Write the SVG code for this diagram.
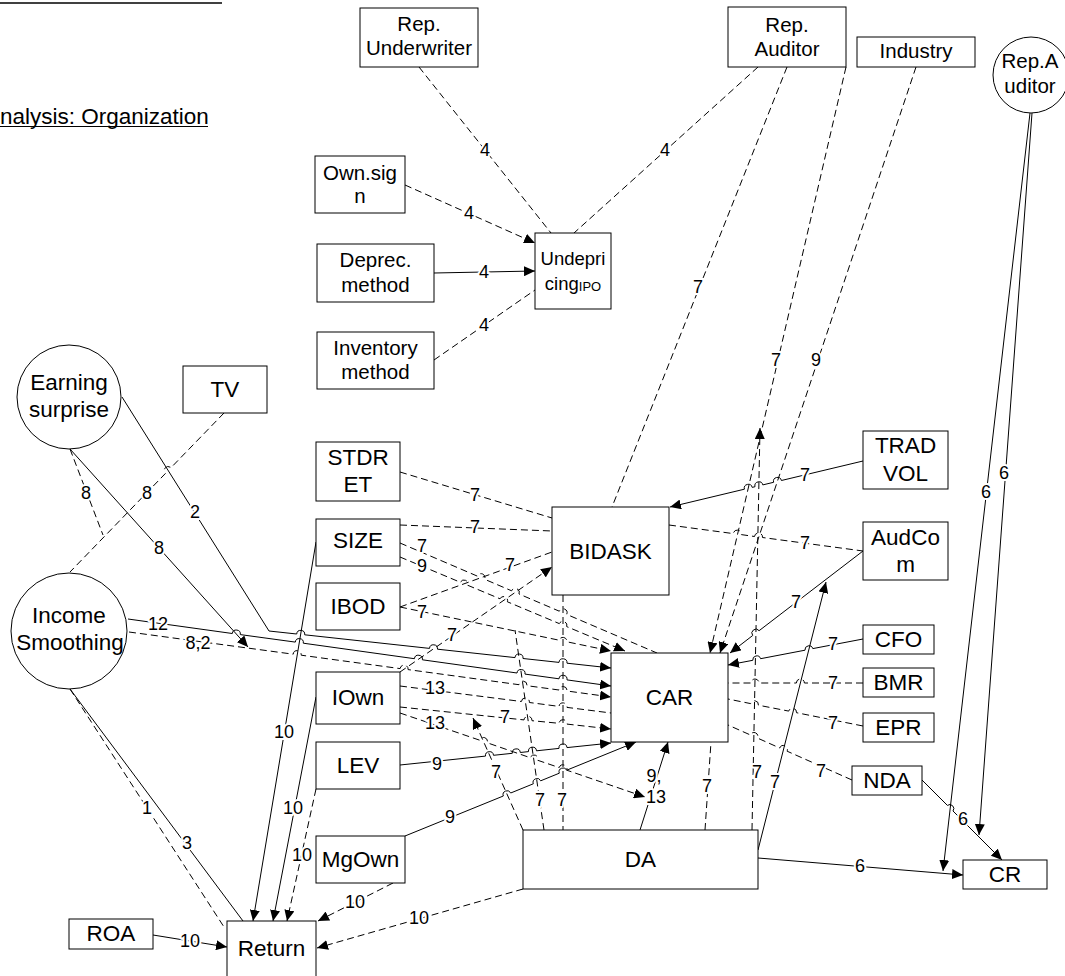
<svg xmlns="http://www.w3.org/2000/svg" width="1065" height="976" viewBox="0 0 1065 976">
  <defs>
    <marker id="ah" viewBox="0 0 11 10" refX="11" refY="5" markerWidth="11" markerHeight="10" markerUnits="userSpaceOnUse" orient="auto">
      <path d="M0,0 L11,5 L0,10 z" fill="#000"/>
    </marker>
    <style>
      .box { fill: #fff; stroke: #000; stroke-width: 1; }
      .t { font-family: "Liberation Sans", Arial, sans-serif; font-size: 22.5px; text-anchor: middle; fill: #000; }
      .ts { font-size: 20.5px; }
      .e { fill: none; stroke: #000; stroke-width: 1; }
      .d { stroke-dasharray: 7 4; }
      .a { marker-end: url(#ah); }
      .l { font-family: "Liberation Sans", Arial, sans-serif; font-size: 18px; text-anchor: middle; fill: #000; stroke: #fff; stroke-width: 4; paint-order: stroke; stroke-linejoin: round; }
      .title { font-family: "Liberation Sans", Arial, sans-serif; font-size: 22.5px; fill: #000; }
    </style>
  </defs>
  <rect width="1065" height="976" fill="#fff"/>

  <!-- headings -->
  <line x1="0" y1="3" x2="222" y2="3" stroke="#000" stroke-width="1.5"/>
  <text class="title" x="0" y="124">nalysis: Organization</text>
  <line x1="0" y1="126.5" x2="208" y2="126.5" stroke="#000" stroke-width="1.2"/>

  <!-- connectors (small arcs are line-jumps where connectors cross) -->
  <g id="connectors">
    <!-- underpricing block -->
    <path class="e d" d="M419,67 L551,233"/>
    <path class="e d" d="M758,67 L574,233"/>
    <path class="e d a" d="M405,185 L535,243"/>
    <path class="e a" d="M434,273 L535,271"/>
    <path class="e d" d="M434,360 L535,290"/>

    <!-- auditor / industry -->
    <path class="e d" d="M787,67 L612,507"/>
    <path class="e d a" d="M846,67 L710,653"/>
    <path class="e d a" d="M916,67 L720,653"/>
    <path class="e a" d="M1030,113 L943,871"/>
    <path class="e a" d="M1032,113 L979,835"/>
    <path class="e a" d="M758,858 L963,875"/>
    <path class="e a" d="M922,780 L947.4,805.4 A4,4 0 0 1 953,811 L1002,860"/>

    <!-- earnings surprise / income smoothing -->
    <path class="e d" d="M224,413 L171,467.7 A4,4 0 0 0 165.4,473.5 L70,572"/>
    <path class="e d" d="M70,449 L103,535"/>
    <path class="e a" d="M70,449 L248,647"/>
    <path class="e a" d="M122,397 L269,631 L296.7,634 A4,4 0 0 1 304.7,634.8 L429.5,648.4 A4,4 0 0 1 437.5,649.2 L515,657.6 A4,4 0 0 1 523,658.5 L559,662.4 A4,4 0 0 1 567,663.2 L611,668"/>
    <path class="e a" d="M128,619 L232.3,633.5 A4,4 0 0 1 240.3,634.6 L295.3,642.1 A4,4 0 0 1 303.3,643.2 L414.4,658.7 A4,4 0 0 1 422.4,659.8 L517,673 A4,4 0 0 1 525,674.1 L559,678.8 A4,4 0 0 1 567,679.9 L611,686"/>
    <path class="e d a" d="M129,632 L293.2,654.2 A4,4 0 0 1 301.2,655.2 L400.1,668.6 A4,4 0 0 1 408.1,669.6 L519,684.7 A4,4 0 0 1 527,685.7 L559,690 A4,4 0 0 1 567,691 L611,697"/>

    <!-- firm characteristics into CAR -->
    <path class="e d" d="M400,686 L521.4,701.5 A4,4 0 0 1 529.4,702.5 L559,706.4 A4,4 0 0 1 567,707.4 L611,713"/>
    <path class="e d a" d="M400,707 L524,719.9 A4,4 0 0 1 532,720.7 L559,723.3 A4,4 0 0 1 567,724.1 L611,729"/>
    <path class="e d a" d="M400,713 L479.7,740.2 A4,4 0 0 1 487.3,742.8 L530.2,757.7 A4,4 0 0 1 537.8,760.3 L559.2,767.6 A4,4 0 0 1 566.8,770.2 L645,797"/>
    <path class="e a" d="M640,830 L668,742"/>
    <path class="e a" d="M400,765 L485.5,756.1 A4,4 0 0 1 493.5,755.3 L512.3,753.3 A4,4 0 0 1 520.3,752.5 L528.5,751.6 A4,4 0 0 1 536.5,750.8 L559,748.4 A4,4 0 0 1 567,747.6 L611,743"/>
    <path class="e a" d="M405,836 L503.3,796 A4,4 0 0 1 510.7,793 L533.3,783.8 A4,4 0 0 1 540.7,780.8 L559.3,773.2 A4,4 0 0 1 566.7,770.2 L636,742"/>
    <path class="e d a" d="M523,830 L473,718"/>
    <path class="e d" d="M544,830 L515,630"/>
    <path class="e d" d="M563,595 L563,830"/>
    <path class="e d" d="M705,830 L711,742"/>
    <path class="e d a" d="M752,830 L760,428"/>
    <path class="e a" d="M758,850 L826,582"/>

    <!-- right-hand variables -->
    <path class="e a" d="M863,551 L759.1,630.7 A4,4 0 0 0 752.7,635.5 L730,653"/>
    <path class="e a" d="M863,461 L781.4,480.5 A4,4 0 0 0 773.6,482.3 L762.8,484.9 A4,4 0 0 0 755,486.7 L752.2,487.4 A4,4 0 0 0 744.4,489.2 L670,507"/>
    <path class="e a" d="M863,639 L812.8,648.6 A4,4 0 0 0 805,650.2 L760.6,658.7 A4,4 0 0 0 752.8,660.3 L728,665"/>
    <path class="e d" d="M863,683 L804.4,683 A4,4 0 0 0 796.4,683 L759,683 A4,4 0 0 0 751,683 L728,683"/>
    <path class="e d" d="M863,726 L796.5,712.7 A4,4 0 0 0 788.7,711.1 L758.4,705.2 A4,4 0 0 0 750.6,703.6 L728,699"/>
    <path class="e d" d="M852,780 L787.1,751.2 A4,4 0 0 0 779.7,748 L757.6,738.1 A4,4 0 0 0 750.2,734.9 L728,725"/>
    <path class="e d" d="M669,525 L733.3,533.6 A4,4 0 0 1 741.3,534.6 L754.5,536.5 A4,4 0 0 1 762.5,537.5 L863,551"/>

    <!-- left-hand variables into BIDASK / CAR -->
    <path class="e d" d="M400,472 L552,518"/>
    <path class="e d" d="M400,525 L552,531"/>
    <path class="e d" d="M400,543 L477.3,576.1 A4,4 0 0 1 484.7,579.3 L511.6,590.8 A4,4 0 0 1 519,594 L559.3,611.2 A4,4 0 0 1 566.7,614.4 L657,653"/>
    <path class="e d a" d="M400,557 L460.4,582.3 A4,4 0 0 1 467.8,585.3 L500,598.8 A4,4 0 0 1 507.4,601.8 L559.3,623.6 A4,4 0 0 1 566.7,626.6 L625,651"/>
    <path class="e d" d="M400,607 L552,552"/>
    <path class="e d a" d="M400,672 L552,567"/>
    <path class="e d a" d="M400,607 L559.1,640.2 A4,4 0 0 1 566.9,641.8 L611,651"/>

    <!-- into Return -->
    <path class="e a" d="M316,542 L253,921"/>
    <path class="e a" d="M316,697 L273,921"/>
    <path class="e d a" d="M316,789 L287,921"/>
    <path class="e d a" d="M393,883 L318,921"/>
    <path class="e a" d="M153,935 L227,947"/>
    <path class="e d a" d="M523,889 L317,948"/>
    <path class="e" d="M70,689 L243,921"/>
    <path class="e d" d="M70,689 L224,927"/>

    <!-- connector labels -->
    <text class="l" x="485" y="156">4</text>
    <text class="l" x="665" y="156">4</text>
    <text class="l" x="469" y="219">4</text>
    <text class="l" x="484" y="278">4</text>
    <text class="l" x="484" y="331">4</text>
    <text class="l" x="698" y="293">7</text>
    <text class="l" x="776" y="366">7</text>
    <text class="l" x="816" y="366">9</text>
    <text class="l" x="986" y="498">6</text>
    <text class="l" x="1004" y="479">6</text>
    <text class="l" x="860" y="872">6</text>
    <text class="l" x="963" y="825">6</text>
    <text class="l" x="147" y="499">8</text>
    <text class="l" x="86" y="499">8</text>
    <text class="l" x="159" y="554">8</text>
    <text class="l" x="195" y="518">2</text>
    <text class="l" x="158" y="630">12</text>
    <text class="l" x="198" y="649">8,2</text>
    <text class="l" x="435" y="694">13</text>
    <text class="l" x="505" y="723">7</text>
    <text class="l" x="435" y="729">13</text>
    <text class="l" x="654" y="782">9,</text>
    <text class="l" x="656" y="803">13</text>
    <text class="l" x="437" y="770">9</text>
    <text class="l" x="450" y="823">9</text>
    <text class="l" x="496" y="778">7</text>
    <text class="l" x="540" y="806">7</text>
    <text class="l" x="562" y="806">7</text>
    <text class="l" x="707" y="792">7</text>
    <text class="l" x="757" y="778">7</text>
    <text class="l" x="775" y="788">7</text>
    <text class="l" x="796" y="608">7</text>
    <text class="l" x="805" y="481">7</text>
    <text class="l" x="833" y="650">7</text>
    <text class="l" x="833" y="689">7</text>
    <text class="l" x="833" y="729">7</text>
    <text class="l" x="821" y="777">7</text>
    <text class="l" x="805" y="549">7</text>
    <text class="l" x="475" y="501">7</text>
    <text class="l" x="475" y="533">7</text>
    <text class="l" x="422" y="552">7</text>
    <text class="l" x="422" y="572">9</text>
    <text class="l" x="510" y="571">7</text>
    <text class="l" x="452" y="641">7</text>
    <text class="l" x="422" y="618">7</text>
    <text class="l" x="284" y="738">10</text>
    <text class="l" x="293" y="814">10</text>
    <text class="l" x="302" y="861">10</text>
    <text class="l" x="355" y="908">10</text>
    <text class="l" x="190" y="947">10</text>
    <text class="l" x="419" y="924">10</text>
    <text class="l" x="187" y="849">3</text>
    <text class="l" x="147" y="814">1</text>
  </g>

  <!-- nodes -->
  <g id="rep-underwriter"><rect class="box" x="360" y="8" width="118" height="59"/><text class="t ts" x="419" y="31">Rep.</text><text class="t ts" x="419" y="55">Underwriter</text></g>
  <g id="rep-auditor"><rect class="box" x="728" y="7" width="118" height="60"/><text class="t ts" x="787" y="32">Rep.</text><text class="t ts" x="787" y="56">Auditor</text></g>
  <g id="industry"><rect class="box" x="857" y="37" width="118" height="30"/><text class="t ts" x="916" y="58">Industry</text></g>
  <g id="rep-auditor-latent"><circle class="box" cx="1031" cy="75" r="38"/><text class="t ts" x="1030" y="68">Rep.A</text><text class="t ts" x="1030" y="93">uditor</text></g>
  <g id="own-sign"><rect class="box" x="315" y="156" width="90" height="57"/><text class="t ts" x="360" y="180">Own.sig</text><text class="t ts" x="360" y="203">n</text></g>
  <g id="deprec-method"><rect class="box" x="317" y="244" width="117" height="58"/><text class="t ts" x="375.5" y="267">Deprec.</text><text class="t ts" x="375.5" y="292">method</text></g>
  <g id="inventory-method"><rect class="box" x="317" y="332" width="117" height="57"/><text class="t ts" x="375.5" y="355">Inventory</text><text class="t ts" x="375.5" y="379">method</text></g>
  <g id="underpricing"><rect class="box" x="535" y="233" width="76" height="76"/><text class="t" style="font-size:18.5px" x="573" y="265">Undepri</text><text class="t" style="font-size:18.5px" x="573" y="290">cing<tspan style="font-size:13px" dy="1">IPO</tspan></text></g>
  <g id="earning-surprise"><circle class="box" cx="69" cy="397" r="52"/><text class="t" x="69" y="390">Earning</text><text class="t" x="69" y="417">surprise</text></g>
  <g id="tv"><rect class="box" x="183" y="366" width="84" height="47"/><text class="t" x="225" y="397">TV</text></g>
  <g id="income-smoothing"><circle class="box" cx="69" cy="631" r="58"/><text class="t" x="69" y="623">Income</text><text class="t" x="70" y="650">Smoothing</text></g>
  <g id="stdret"><rect class="box" x="316" y="442" width="84" height="59"/><text class="t" x="358" y="465">STDR</text><text class="t" x="358" y="492">ET</text></g>
  <g id="size"><rect class="box" x="316" y="519" width="84" height="47"/><text class="t" x="358" y="548">SIZE</text></g>
  <g id="ibod"><rect class="box" x="316" y="583" width="84" height="47"/><text class="t" x="358" y="614">IBOD</text></g>
  <g id="iown"><rect class="box" x="316" y="672" width="84" height="52"/><text class="t" x="358" y="705">IOwn</text></g>
  <g id="lev"><rect class="box" x="316" y="742" width="84" height="47"/><text class="t" x="358" y="773">LEV</text></g>
  <g id="mgown"><rect class="box" x="316" y="836" width="89" height="47"/><text class="t" x="360.5" y="867">MgOwn</text></g>
  <g id="roa"><rect class="box" x="69" y="919" width="84" height="30"/><text class="t" x="111" y="941">ROA</text></g>
  <g id="return"><rect class="box" x="227" y="921" width="89" height="62"/><text class="t" x="271.5" y="956">Return</text></g>
  <g id="bidask"><rect class="box" x="552" y="507" width="117" height="88"/><text class="t" x="610.5" y="559">BIDASK</text></g>
  <g id="car"><rect class="box" x="611" y="653" width="117" height="89"/><text class="t" x="669.5" y="705">CAR</text></g>
  <g id="da"><rect class="box" x="523" y="830" width="235" height="59"/><text class="t" x="640.5" y="867">DA</text></g>
  <g id="tradvol"><rect class="box" x="863" y="431" width="85" height="58"/><text class="t" x="905.5" y="453">TRAD</text><text class="t" x="905.5" y="481">VOL</text></g>
  <g id="audcom"><rect class="box" x="863" y="522" width="85" height="58"/><text class="t" x="905.5" y="545">AudCo</text><text class="t" x="905.5" y="572">m</text></g>
  <g id="cfo"><rect class="box" x="863" y="625" width="71" height="29"/><text class="t" x="898.5" y="647">CFO</text></g>
  <g id="bmr"><rect class="box" x="863" y="668" width="71" height="29"/><text class="t" x="898.5" y="690">BMR</text></g>
  <g id="epr"><rect class="box" x="863" y="713" width="71" height="29"/><text class="t" x="898.5" y="735">EPR</text></g>
  <g id="nda"><rect class="box" x="852" y="766" width="70" height="29"/><text class="t" x="887" y="788">NDA</text></g>
  <g id="cr"><rect class="box" x="963" y="860" width="84" height="29"/><text class="t" x="1005" y="882">CR</text></g>
</svg>
